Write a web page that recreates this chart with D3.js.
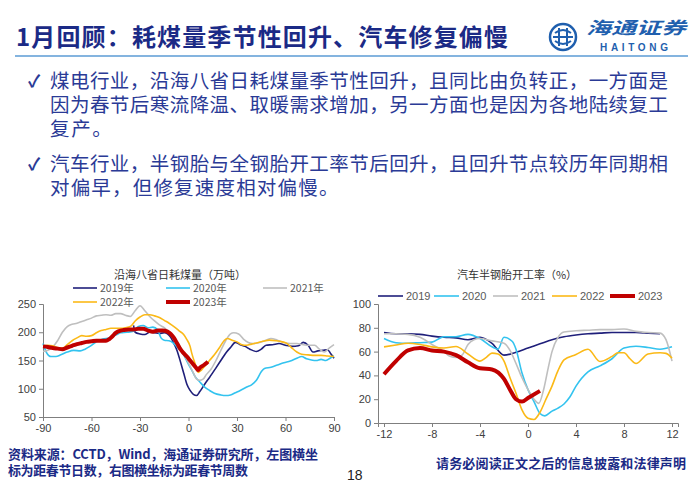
<!DOCTYPE html>
<html><head><meta charset="utf-8">
<script src="https://cdn.jsdelivr.net/npm/d3@7/dist/d3.min.js"></script>
<style>
html,body{margin:0;padding:0;background:#fff;}
svg{display:block;}
text{font-family:"Noto Sans CJK SC","Noto Sans",sans-serif;}
.num{font-family:"Liberation Sans",Arial,sans-serif;}
</style></head>
<body>
<svg id="c" width="700" height="484"></svg>
<script>
// ---------------- DATA ----------------
const pageTitle = "1月回顾：耗煤量季节性回升、汽车修复偏慢";
const bulletLines = [
  ["煤电行业，沿海八省日耗煤量季节性回升，且同比由负转正，一方面是","因为春节后寒流降温、取暖需求增加，另一方面也是因为各地陆续复工","复产。"],
  ["汽车行业，半钢胎与全钢胎开工率节后回升，且回升节点较历年同期相","对偏早，但修复速度相对偏慢。"]
];
const footLeft = ["资料来源：CCTD，Wind，海通证券研究所，左图横坐","标为距春节日数，右图横坐标为距春节周数"];
const footRight = "请务必阅读正文之后的信息披露和法律声明";
const pageNo = "18";

const leftTitle = "沿海八省日耗煤量（万吨）";
const leftNames = ["2019年","2020年","2021年","2022年","2023年"];
const leftXTicks = [-90,-60,-30,0,30,60,90];
const leftYTicks = [50,100,150,200,250];

const rightTitle = "汽车半钢胎开工率（%）";
const rightNames = ["2019","2020","2021","2022","2023"];
const rightXTicks = [-12,-8,-4,0,4,8,12];
const rightYTicks = [0,20,40,60,80,100];

// left chart: [days from Spring Festival, value]
const coal2019 = [[-34,212],[-33,200],[-30,197],[-27,196],[-24,200],[-21,199],[-18,198],[-15,199],[-13,197],[-11,191],[-9,180],[-7,167],[-5,148],[-3,128],[-1,108],[1,97],[3,90],[5,88],[7,95],[10,108],[13,120],[17,137],[20,150],[23,163],[26,173],[29,182],[32,178],[35,175],[38,170],[42,166],[45,170],[48,177],[52,178],[56,180],[60,177],[64,175],[68,176],[71,182],[74,177],[77,165],[80,167],[83,168],[86,169],[88,162],[90,154]];
const coal2020 = [[-90,180],[-88,165],[-85,157],[-82,157],[-79,160],[-75,165],[-71,168],[-67,167],[-64,170],[-61,175],[-57,183],[-53,188],[-49,190],[-45,195],[-42,199],[-38,200],[-34,202],[-31,210],[-28,212],[-25,208],[-22,209],[-19,204],[-17,190],[-15,186],[-12,185],[-9,180],[-6,171],[-3,160],[0,143],[2,133],[4,122],[7,112],[10,103],[13,97],[16,92],[20,89],[23,88],[26,89],[29,93],[32,97],[36,103],[39,107],[42,115],[45,130],[47,136],[51,138],[55,142],[59,146],[63,149],[67,154],[70,157],[73,153],[76,151],[79,150],[82,152],[85,150],[88,155],[90,158]];
const coal2021 = [[-90,166],[-87,168],[-84,174],[-81,185],[-78,200],[-75,210],[-72,214],[-69,216],[-66,219],[-63,222],[-60,225],[-57,229],[-54,230],[-51,231],[-48,230],[-45,233],[-42,233],[-39,230],[-36,228],[-33,238],[-30,247],[-27,238],[-24,228],[-21,220],[-18,213],[-15,208],[-12,200],[-9,190],[-6,178],[-3,163],[-1,151],[1,140],[3,128],[5,117],[7,115],[9,117],[11,125],[14,135],[17,150],[20,168],[23,185],[26,197],[28,199],[31,197],[34,188],[37,182],[40,180],[44,182],[48,186],[51,189],[55,186],[59,182],[63,180],[67,180],[71,178],[75,177],[78,177],[81,170],[84,165],[87,172],[90,178]];
const coal2022 = [[-90,176],[-87,177],[-84,176],[-81,173],[-78,172],[-75,178],[-72,185],[-69,190],[-66,194],[-63,193],[-60,194],[-57,199],[-54,203],[-51,205],[-48,207],[-45,207],[-42,207],[-39,208],[-36,210],[-33,220],[-30,227],[-27,231],[-24,231],[-21,229],[-18,226],[-15,221],[-12,216],[-9,210],[-6,203],[-3,196],[-1,187],[1,175],[2,163],[4,145],[6,129],[8,133],[10,140],[13,150],[16,160],[19,172],[22,185],[24,189],[27,186],[30,183],[33,178],[36,177],[39,179],[42,181],[46,184],[50,186],[54,185],[58,183],[61,180],[64,172],[67,165],[70,161],[74,160],[78,159],[82,159],[86,158],[90,157]];
const coal2023 = [[-90,175],[-87,174],[-84,172],[-81,171],[-78,170],[-75,173],[-72,176],[-69,179],[-66,181],[-63,183],[-60,184],[-57,185],[-54,185],[-51,185],[-49,188],[-47,193],[-45,199],[-43,202],[-40,204],[-37,205],[-34,205],[-31,206],[-28,206],[-25,203],[-22,201],[-19,203],[-16,203],[-13,201],[-11,197],[-9,190],[-7,180],[-5,170],[-3,163],[-1,157],[1,150],[3,143],[5,136],[6,133],[7,137],[9,141],[11,145],[12,148]];

// right chart: [weeks from Spring Festival, %]
const tire2019 = [[-12,76],[-11,75],[-10,75],[-9,74.5],[-8,73],[-7,72],[-6,71.5],[-5,70],[-4,72],[-3,67],[-2,57],[-1,59.5],[0,63],[1,66.5],[2,70],[3,72.5],[4,74],[5,75],[6,75.5],[7,76],[8,76],[9,76],[10,75.5],[11,75]];
const tire2020 = [[-12,71],[-11,67.5],[-10,67],[-9,67.5],[-8,68],[-7,72.5],[-6,72.5],[-5,74.5],[-4,71],[-3,64],[-2.5,62],[-2,72],[-1.3,68.5],[-1,62],[-0.5,42],[0,28],[0.5,18],[1,8],[1.4,6],[2,10],[2.5,12.5],[3,16],[3.5,22],[4,31],[5,43],[6,48],[7,54],[8,63],[9,64.5],[10,63.5],[11,62],[12,64]];
const tire2021 = [[-12,75],[-11,75],[-10,74.5],[-9,72],[-8,66],[-7,60],[-6.5,56],[-6,55],[-5.5,57],[-5,66],[-4.5,70],[-4,71],[-3,69],[-2,67],[-1.5,61],[-1,50],[-0.5,38],[0,28],[0.5,20],[0.9,16.5],[1.3,28],[1.7,47],[2,60],[2.5,72],[3,76.5],[4,77.5],[5,78],[6,78.5],[7,78.5],[8,79],[9,77],[10,76],[11,75.5],[11.5,70],[12,52]];
const tire2022 = [[-12,64],[-11,65.5],[-10,67],[-9,66],[-8,64],[-7,63],[-6,64.3],[-5,58],[-4,52],[-3.5,55],[-3,58.7],[-2.5,58],[-2,52],[-1.5,38],[-1,25],[-0.5,11],[0,4],[0.5,3],[1,9],[1.5,20],[2,31],[2.5,44],[3,53],[4,57.5],[5,62],[6,51.7],[7,56],[7.5,59],[8,59],[8.5,54],[9,50],[10,58],[11,59],[11.5,58.5],[12,54.5]];
const tire2023 = [[-12,41],[-11,52],[-10,61],[-9,63],[-8,61],[-7,60],[-6,57],[-5,51],[-4,46],[-3,45],[-2,37],[-1.5,28],[-1,20],[-0.5,18],[0,21],[1,27]];

const colors = ["#1f1f7a","#33c3ef","#bfbfbf","#fbb917","#c00000"];
const widths = [1.6,1.6,1.6,1.6,4];

// ---------------- DRAW ----------------
const svg = d3.select("#c");
const navy = "#1b2a86";

// header
svg.append("text").attr("x",16).attr("y",46).attr("font-size",24).attr("font-weight","bold")
  .attr("fill",navy).attr("textLength",492).attr("lengthAdjust","spacing").text(pageTitle);
svg.append("line").attr("x1",15).attr("x2",688).attr("y1",56).attr("y2",56)
  .attr("stroke","#5b9bd5").attr("stroke-width",1.5);

// logo
const lg = svg.append("g").attr("transform","translate(563,37)");
lg.append("circle").attr("r",13).attr("fill","none").attr("stroke","#1f5fae").attr("stroke-width",2.5);
lg.append("path").attr("d","M-8,-4 Q0,-10 8,-4 M-8,4 Q0,10 8,4 M-4,-9 L-4,9 M4,-9 L4,9 M-10,0 L10,0")
  .attr("fill","none").attr("stroke","#1f5fae").attr("stroke-width",2);
svg.append("text").attr("x",586).attr("y",34).attr("font-size",17).attr("font-weight","bold").attr("font-style","italic")
  .attr("fill","#1f5fae").attr("textLength",100).attr("lengthAdjust","spacingAndGlyphs").text("海通证券");
svg.append("text").attr("class","num").attr("x",600).attr("y",51).attr("font-size",10).attr("font-weight","bold")
  .attr("fill","#1f5fae").attr("textLength",68).text("HAITONG");

// bullets
const bodyColor = "#2a3a96";
const lineY = [[88,112,136],[171,195]];
bulletLines.forEach((lines,bi)=>{
  svg.append("text").attr("x",28).attr("y",lineY[bi][0]-1).attr("font-size",17)
    .attr("font-family","DejaVu Sans").attr("font-weight","bold").attr("fill",bodyColor).text("✓");
  lines.forEach((t,li)=>{
    const tx = svg.append("text").attr("x",50).attr("y",lineY[bi][li]).attr("font-size",19.5)
      .attr("fill",bodyColor).text(t);
    if (t.length >= 30) tx.attr("textLength",618).attr("lengthAdjust","spacing");
    else tx.attr("textLength",t.length*20.6).attr("lengthAdjust","spacing");
  });
});

// footer
svg.append("text").attr("x",8).attr("y",459).attr("font-size",13).attr("font-weight","bold")
  .attr("fill",navy).attr("textLength",310).attr("lengthAdjust","spacing").text(footLeft[0]);
svg.append("text").attr("x",8).attr("y",475).attr("font-size",13).attr("font-weight","bold")
  .attr("fill",navy).attr("textLength",240).attr("lengthAdjust","spacing").text(footLeft[1]);
svg.append("text").attr("class","num").attr("x",347).attr("y",480).attr("font-size",14)
  .attr("fill","#222").text(pageNo);
svg.append("text").attr("x",436).attr("y",468).attr("font-size",13).attr("font-weight","bold")
  .attr("fill",navy).attr("textLength",250).attr("lengthAdjust","spacing").text(footRight);

function styleAxis(g){
  g.selectAll("path,line").attr("stroke","#7f7f7f").attr("stroke-width",1);
  g.selectAll("text").attr("class","num").attr("font-size",11).attr("fill","#404040")
    .attr("font-family","Liberation Sans, Arial, sans-serif");
}
const fmt = d => String(d);

// ---- left chart ----
const xL = d3.scaleLinear().domain([-90,90]).range([43,334]);
const yL = d3.scaleLinear().domain([50,250]).range([417,304]);
const gL = svg.append("g");
gL.append("text").attr("x",180).attr("y",279).attr("text-anchor","middle").attr("font-size",11)
  .attr("fill","#333").text(leftTitle);
const axL = gL.append("g").attr("transform","translate(43,0)")
  .call(d3.axisLeft(yL).tickValues(leftYTicks).tickFormat(fmt).tickSizeOuter(0).tickSize(4));
styleAxis(axL);
const axLx = gL.append("g").attr("transform","translate(0,417)")
  .call(d3.axisBottom(xL).tickValues(leftXTicks).tickFormat(fmt).tickSizeOuter(0).tickSize(4));
styleAxis(axLx);
const lineL = d3.line().x(d=>xL(d[0])).y(d=>yL(d[1])).curve(d3.curveMonotoneX);
[coal2019,coal2020,coal2021,coal2022,coal2023].forEach((s,i)=>{
  gL.append("path").datum(s).attr("d",lineL).attr("fill","none")
    .attr("stroke",colors[i]).attr("stroke-width",widths[i]).attr("stroke-linejoin","round");
});
// left legend
const legL = [[73,288],[166,288],[263,288],[73,302],[166,302]];
leftNames.forEach((n,i)=>{
  const [lx,ly] = legL[i];
  gL.append("line").attr("x1",lx).attr("x2",lx+24).attr("y1",ly).attr("y2",ly)
    .attr("stroke",colors[i]).attr("stroke-width",i===4?4:1.6);
  gL.append("text").attr("x",lx+27).attr("y",ly+3.5).attr("font-size",10.5).attr("fill","#595959").text(n);
});

// ---- right chart ----
const xR = d3.scaleLinear().domain([-12.5,12.5]).range([378,678]);
const yR = d3.scaleLinear().domain([0,100]).range([423,304]);
const gR = svg.append("g");
gR.append("text").attr("x",517).attr("y",279).attr("text-anchor","middle").attr("font-size",11)
  .attr("fill","#333").text(rightTitle);
const axR = gR.append("g").attr("transform","translate(378,0)")
  .call(d3.axisLeft(yR).tickValues(rightYTicks).tickFormat(fmt).tickSizeOuter(0).tickSize(4));
styleAxis(axR);
const axRx = gR.append("g").attr("transform","translate(0,423)")
  .call(d3.axisBottom(xR).tickValues(rightXTicks).tickFormat(fmt).tickSizeOuter(0).tickSize(4));
styleAxis(axRx);
const lineR = d3.line().x(d=>xR(d[0])).y(d=>yR(d[1])).curve(d3.curveMonotoneX);
[tire2019,tire2020,tire2021,tire2022,tire2023].forEach((s,i)=>{
  gR.append("path").datum(s).attr("d",lineR).attr("fill","none")
    .attr("stroke",colors[i]).attr("stroke-width",widths[i]).attr("stroke-linejoin","round");
});
const legRx = [378,434,493,552,610];
rightNames.forEach((n,i)=>{
  const lx = legRx[i], ly = 296;
  gR.append("line").attr("x1",lx).attr("x2",lx+25).attr("y1",ly).attr("y2",ly)
    .attr("stroke",colors[i]).attr("stroke-width",i===4?4:1.6);
  gR.append("text").attr("class","num").attr("x",lx+28).attr("y",ly+4).attr("font-size",11)
    .attr("fill","#595959").attr("font-family","Liberation Sans, Arial, sans-serif").text(n);
});
</script>
</body></html>
